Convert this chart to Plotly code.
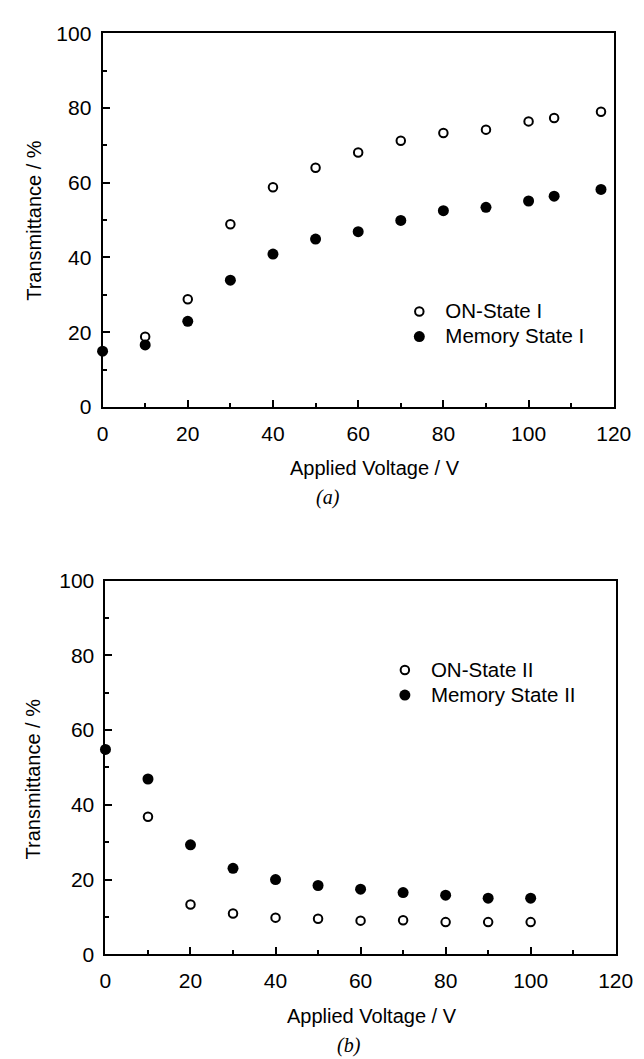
import plotly.graph_objects as go

# ---- data ----
volts_a = [0, 10, 20, 30, 40, 50, 60, 70, 80, 90, 100, 106, 117]
on_state_1 = [None, 18.8, 28.8, 48.9, 58.8, 64.0, 68.1, 71.2, 73.3, 74.2, 76.4, 77.3, 79.0]
memory_state_1 = [14.9, 16.6, 22.9, 33.9, 40.9, 44.9, 46.9, 49.9, 52.5, 53.4, 55.1, 56.4, 58.2]

volts_b = [0, 10, 20, 30, 40, 50, 60, 70, 80, 90, 100]
on_state_2 = [None, 36.8, 13.3, 10.9, 9.8, 9.5, 9.0, 9.1, 8.6, 8.6, 8.6]
memory_state_2 = [54.8, 46.9, 29.3, 23.0, 20.0, 18.4, 17.4, 16.5, 15.8, 15.0, 15.0]

series_names = ["ON-State I", "Memory State I", "ON-State II", "Memory State II"]
x_ticks = [0, 20, 40, 60, 80, 100, 120]
y_ticks = [0, 20, 40, 60, 80, 100]

W, H = 644, 1059
FONT = "Liberation Sans, Arial, Helvetica, sans-serif"

def px_x(p):
    return p / W

def px_y(p):
    return 1 - p / H

def leg_name(s):
    return '<span style="font-size:20.5px">' + s + '</span>'

open_marker = dict(symbol="circle-open", size=8.5, color="black", line=dict(width=2, color="black"))
filled_marker = dict(symbol="circle", size=11, color="black", line=dict(width=0))

fig = go.Figure()
fig.add_trace(go.Scatter(x=volts_a, y=on_state_1, mode="markers", name=leg_name(series_names[0]),
                         marker=open_marker, xaxis="x", yaxis="y", legend="legend", cliponaxis=False))
fig.add_trace(go.Scatter(x=volts_a, y=memory_state_1, mode="markers", name=leg_name(series_names[1]),
                         marker=filled_marker, xaxis="x", yaxis="y", legend="legend", cliponaxis=False))
fig.add_trace(go.Scatter(x=volts_b, y=on_state_2, mode="markers", name=leg_name(series_names[2]),
                         marker=open_marker, xaxis="x2", yaxis="y2", legend="legend2", cliponaxis=False))
fig.add_trace(go.Scatter(x=volts_b, y=memory_state_2, mode="markers", name=leg_name(series_names[3]),
                         marker=filled_marker, xaxis="x2", yaxis="y2", legend="legend2", cliponaxis=False))

def xaxis_style(domain, anchor):
    return dict(domain=domain, anchor=anchor, range=[0, 120], tickvals=x_ticks,
                ticktext=[str(v) for v in x_ticks],
                showline=True, linewidth=2, linecolor="black", mirror=True,
                ticks="inside", ticklen=7, tickwidth=1.5, tickcolor="black",
                minor=dict(dtick=10, ticks="inside", ticklen=4, tickwidth=1.5, tickcolor="black"),
                showgrid=False, zeroline=False,
                tickfont=dict(family=FONT, size=21, color="black"),
                ticklabelstandoff=7)

def yaxis_style(domain, anchor):
    return dict(domain=domain, anchor=anchor, range=[0, 100], tickvals=y_ticks,
                ticktext=[str(v) for v in y_ticks],
                showline=True, linewidth=2, linecolor="black", mirror=True,
                ticks="inside", ticklen=7, tickwidth=1.5, tickcolor="black",
                minor=dict(dtick=10, ticks="inside", ticklen=4, tickwidth=1.5, tickcolor="black"),
                showgrid=False, zeroline=False,
                tickfont=dict(family=FONT, size=21, color="black"),
                ticklabelstandoff=5)

legend_style = dict(font=dict(family=FONT, size=17, color="black"), bgcolor="rgba(0,0,0,0)",
                    xanchor="left", yanchor="top", itemwidth=42, tracegroupgap=0)

annos = [
    dict(text="Applied Voltage / V", x=px_x(375), y=px_y(458)),
    dict(text="Applied Voltage / V", x=px_x(372), y=px_y(1018)),
    dict(text="Transmittance / %", x=px_x(20), y=px_y(205), textangle=-90),
    dict(text="Transmittance / %", x=px_x(20), y=px_y(776), textangle=-90),
]
annotations = []
for a in annos:
    d = dict(xref="paper", yref="paper", showarrow=False, xanchor="center", yanchor="middle",
             font=dict(family=FONT, size=20, color="black"))
    d.update(a)
    annotations.append(d)
for txt, x, y in [("(a)", 326, 488), ("(b)", 348, 1048)]:
    annotations.append(dict(text="<i>" + txt + "</i>", xref="paper", yref="paper", x=px_x(x), y=px_y(y),
                            showarrow=False, xanchor="center", yanchor="middle",
                            font=dict(family="Liberation Serif, Times New Roman, serif", size=20, color="black")))

fig.update_layout(
    width=W, height=H, margin=dict(l=0, r=0, t=0, b=0),
    paper_bgcolor="white", plot_bgcolor="white",
    xaxis=xaxis_style([px_x(92), px_x(623)], "y"),
    yaxis=yaxis_style([px_y(395.5), px_y(13.5)], "x"),
    xaxis2=xaxis_style([px_x(95), px_x(625)], "y2"),
    yaxis2=yaxis_style([px_y(955), px_y(573)], "x2"),
    legend=dict(x=px_x(394), y=px_y(280), **legend_style),
    legend2=dict(x=px_x(379), y=px_y(646.5), **legend_style),
    annotations=annotations,
    showlegend=True,
)

fig.write_html("out.html")
